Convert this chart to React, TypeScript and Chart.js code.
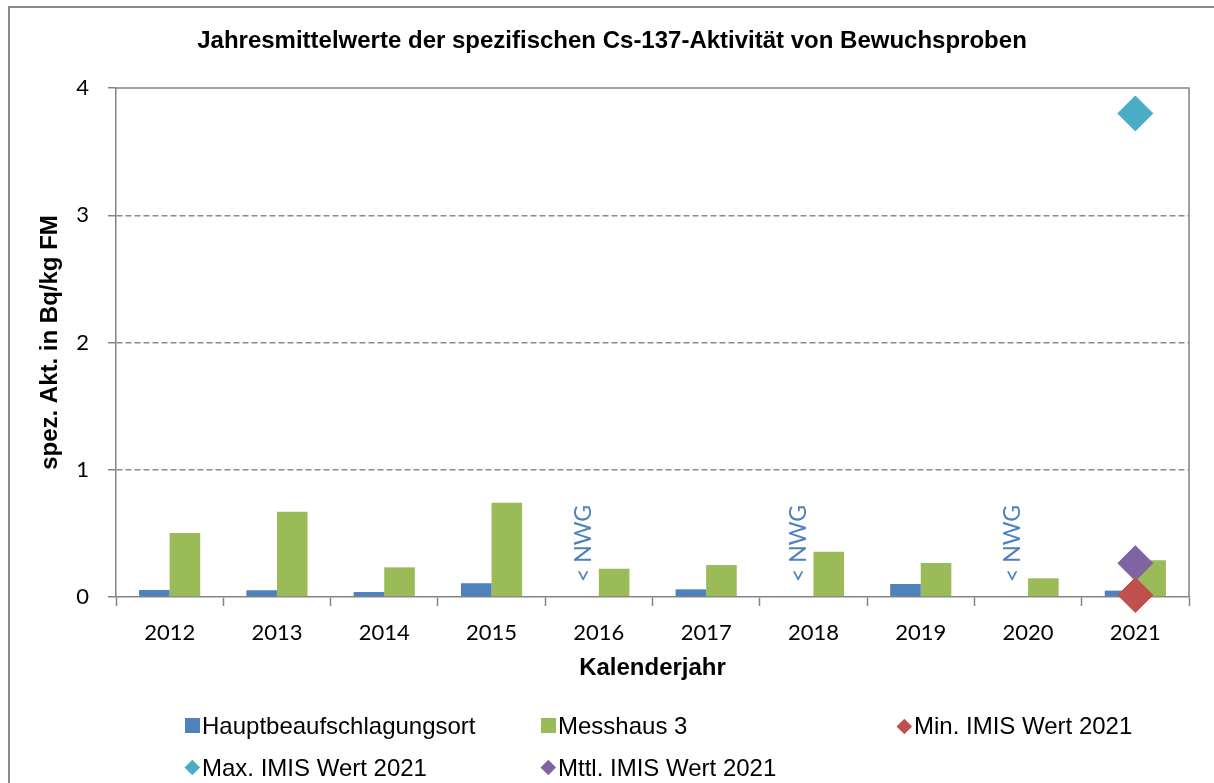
import React, { useEffect, useRef } from "react";
import { Chart, registerables } from "chart.js";

Chart.register(...registerables);

const years = ["2012", "2013", "2014", "2015", "2016", "2017", "2018", "2019", "2020", "2021"];
const hauptValues = [0.055, 0.053, 0.039, 0.108, null, 0.06, null, 0.102, null, 0.05];
const messhausValues = [0.503, 0.67, 0.233, 0.741, 0.222, 0.251, 0.356, 0.267, 0.147, 0.288];
const minImisValues = [null, null, null, null, null, null, null, null, null, 0.015];
const maxImisValues = [null, null, null, null, null, null, null, null, null, 3.8];
const mittlImisValues = [null, null, null, null, null, null, null, null, null, 0.265];
const nwgLabels = ["", "", "", "", "< NWG", "", "< NWG", "", "< NWG", ""];
const yTickValues = [0, 1, 2, 3, 4];

const seriesNames = [
  "Hauptbeaufschlagungsort",
  "Messhaus 3",
  "Min. IMIS Wert 2021",
  "Max. IMIS Wert 2021",
  "Mttl. IMIS Wert 2021",
];
const colors = ["#4F81BD", "#9BBB59", "#C0504D", "#4BACC6", "#8064A2"];

const AXIS = "#848484";
const GRID = "#8c8c8c";
const SANS = "'Liberation Sans', Arial, sans-serif";
const TICKFONT = "Lato, 'Open Sans', sans-serif";

export default function App() {
  const ref = useRef<HTMLCanvasElement | null>(null);

  useEffect(() => {
    const canvas = ref.current;
    if (!canvas) return;

    const nwgPlugin = {
      id: "nwg",
      afterDatasetsDraw(chart: any) {
        const ctx = chart.ctx;
        const xs = chart.scales.x;
        const ys = chart.scales.y;
        const meta = chart.getDatasetMeta(0);
        const refEl = meta.data.find((el: any) => el && Number.isFinite(el.width) && el.width > 0);
        const bw = refEl ? refEl.width : 30;
        ctx.save();
        ctx.font = "23px Lato, 'Open Sans', sans-serif";
        ctx.fillStyle = "#4F81BD";
        ctx.textAlign = "left";
        ctx.textBaseline = "middle";
        nwgLabels.forEach((t, i) => {
          if (!t) return;
          const px = xs.getPixelForValue(i) - bw / 2;
          const py = ys.getPixelForValue(0) - 15;
          ctx.save();
          ctx.translate(px, py);
          ctx.rotate(-Math.PI / 2);
          ctx.fillText(t, 0, 0);
          ctx.restore();
        });
        ctx.restore();
      },
    };

    const framePlugin = {
      id: "frameLines",
      beforeDatasetsDraw(chart: any) {
        const { ctx, chartArea } = chart;
        ctx.save();
        ctx.strokeStyle = AXIS;
        ctx.lineWidth = 1.5;
        ctx.beginPath();
        ctx.moveTo(chartArea.left, chartArea.top);
        ctx.lineTo(chartArea.right, chartArea.top);
        ctx.lineTo(chartArea.right, chartArea.bottom);
        ctx.stroke();
        ctx.restore();
      },
    };

    const markerDs = (label: string, data: any[], color: string, order: number) => ({
      type: "line" as const,
      label,
      data,
      showLine: false,
      pointStyle: "rectRot",
      pointRadius: 17.5,
      pointBorderWidth: 1,
      backgroundColor: color,
      borderColor: color,
      clip: false,
      order,
    });

    const chart = new Chart(canvas, {
      type: "bar",
      data: {
        labels: years,
        datasets: [
          {
            label: seriesNames[0],
            data: hauptValues,
            backgroundColor: colors[0],
            borderWidth: 0,
            categoryPercentage: 0.57,
            barPercentage: 1,
            order: 10,
          } as any,
          {
            label: seriesNames[1],
            data: messhausValues,
            backgroundColor: colors[1],
            borderWidth: 0,
            categoryPercentage: 0.57,
            barPercentage: 1,
            order: 11,
          } as any,
          markerDs(seriesNames[2], minImisValues, colors[2], 0) as any,
          markerDs(seriesNames[3], maxImisValues, colors[3], 2) as any,
          markerDs(seriesNames[4], mittlImisValues, colors[4], 1) as any,
        ],
      },
      options: {
        animation: false,
        responsive: false,
        events: [],
        layout: { padding: { left: 35, right: 25, top: 0, bottom: 0 } },
        plugins: {
          legend: { display: false },
          tooltip: { enabled: false },
          title: {
            display: true,
            text: "Jahresmittelwerte der spezifischen Cs-137-Aktivität von Bewuchsproben",
            color: "#000",
            font: { family: SANS, size: 24, weight: "bold", lineHeight: 1.2 },
            padding: { top: 26.6, bottom: 32.6 },
          },
        },
        scales: {
          x: {
            afterFit: (s: any) => {
              s.height = 186;
            },
            grid: {
              display: true,
              drawOnChartArea: false,
              drawTicks: true,
              tickLength: 9,
              tickColor: AXIS,
              tickWidth: 1.5,
              tickBorderDash: [],
              offset: true,
            },
            border: { display: true, color: AXIS, width: 1.5 },
            ticks: {
              color: "#000",
              font: { family: TICKFONT, size: 22 },
              padding: 14,
              maxRotation: 0,
            },
            title: {
              display: true,
              text: "Kalenderjahr",
              color: "#000",
              font: { family: SANS, size: 24, weight: "bold", lineHeight: 1.2 },
              padding: { top: 0, bottom: 100 },
            },
          },
          y: {
            min: 0,
            max: 4,
            afterFit: (s: any) => {
              s.width = 81;
            },
            afterBuildTicks: (s: any) => {
              s.ticks = yTickValues.map((v) => ({ value: v }));
            },
            grid: {
              display: true,
              drawOnChartArea: true,
              drawTicks: true,
              tickLength: 8,
              color: (c: any) =>
                c.tick && (c.tick.value === 0 || c.tick.value === 4) ? "rgba(0,0,0,0)" : GRID,
              lineWidth: 1.5,
              borderDash: [6, 3],
              tickBorderDash: [],
              tickColor: AXIS,
              tickWidth: 1.5,
            },
            border: { display: true, color: AXIS, width: 1.5, dash: [6, 3] },
            ticks: {
              color: "#000",
              font: { family: TICKFONT, size: 22 },
              padding: 19,
              stepSize: 1,
            },
            title: {
              display: true,
              text: "spez. Akt. in Bq/kg FM",
              color: "#000",
              font: { family: SANS, size: 24, weight: "bold", lineHeight: 1.2 },
              padding: { top: 1.1, bottom: 0 },
            },
          },
        },
      } as any,
      plugins: [nwgPlugin, framePlugin],
    });

    return () => chart.destroy();
  }, []);

  const legendText: React.CSSProperties = {
    position: "absolute",
    fontFamily: SANS,
    fontSize: 24,
    lineHeight: "28px",
    color: "#000",
    whiteSpace: "nowrap",
  };
  const square = (color: string, x: number, y: number): React.CSSProperties => ({
    position: "absolute",
    left: x,
    top: y,
    width: 15,
    height: 15,
    background: color,
  });
  const diamond = (color: string, cx: number, cy: number): React.CSSProperties => ({
    position: "absolute",
    left: cx - 5.3,
    top: cy - 5.3,
    width: 10.6,
    height: 10.6,
    background: color,
    transform: "rotate(45deg)",
  });

  const row1Top = 712;
  const row2Top = 754.4;

  return (
    <div
      style={{
        position: "fixed",
        left: 0,
        top: 0,
        width: 1214,
        height: 783,
        overflow: "hidden",
        background: "#fff",
      }}
    >
      <div
        style={{
          position: "absolute",
          left: 8,
          top: 6,
          width: 1300,
          height: 900,
          borderLeft: "2px solid #8a8a8a",
          borderTop: "2px solid #8a8a8a",
        }}
      />
      <canvas
        ref={ref}
        width={1214}
        height={783}
        style={{ position: "absolute", left: 0, top: 0, width: 1214, height: 783 }}
      />
      <div style={square(colors[0], 185, 718)} />
      <div style={{ ...legendText, left: 202, top: row1Top }}>{seriesNames[0]}</div>
      <div style={square(colors[1], 541, 718)} />
      <div style={{ ...legendText, left: 558, top: row1Top }}>{seriesNames[1]}</div>
      <div style={diamond(colors[2], 904, 726)} />
      <div style={{ ...legendText, left: 914, top: row1Top }}>{seriesNames[2]}</div>
      <div style={diamond(colors[3], 192.5, 767.5)} />
      <div style={{ ...legendText, left: 202, top: row2Top }}>{seriesNames[3]}</div>
      <div style={diamond(colors[4], 548, 767.5)} />
      <div style={{ ...legendText, left: 558, top: row2Top }}>{seriesNames[4]}</div>
    </div>
  );
}
